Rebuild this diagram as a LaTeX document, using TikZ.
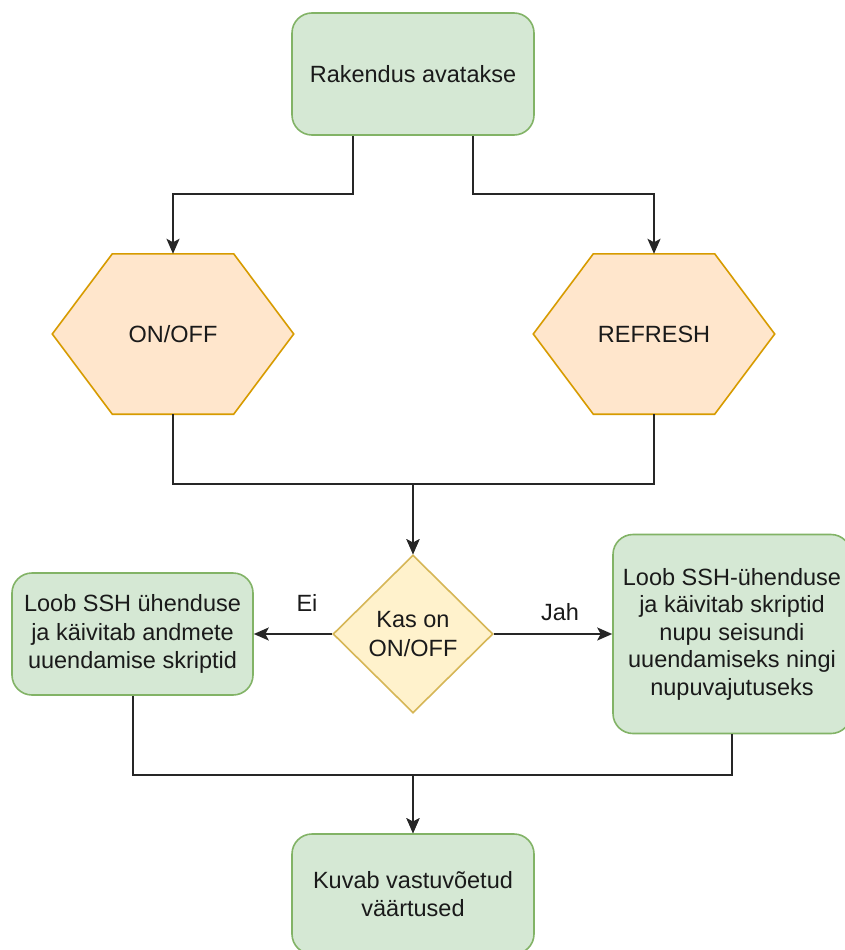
\documentclass[tikz,border=0pt]{standalone}
\usepackage{fontspec}
\setmainfont{Liberation Sans}
\usetikzlibrary{shapes.geometric,arrows.meta,calc}
\definecolor{gfill}{HTML}{D5E8D4}
\definecolor{gline}{HTML}{82B366}
\definecolor{ofill}{HTML}{FFE6CC}
\definecolor{oline}{HTML}{D79B00}
\definecolor{yfill}{HTML}{FFF2CC}
\definecolor{yline}{HTML}{D6B656}
\definecolor{txt}{HTML}{1A1A1A}
\tikzset{
  base/.style={font=\fontsize{23.5}{28.5}\selectfont, text=txt, align=center, inner sep=0pt},
  gbox/.style={base, draw=gline, fill=gfill, line width=1.6pt, rounded corners=20pt},
  hexbox/.style={base, minimum width=241pt, minimum height=160pt},
  hexline/.style={draw=oline, fill=ofill, line width=1.6pt, line join=miter},
  decision/.style={base, shape=diamond, draw=yline, fill=yfill, line width=1.6pt, minimum width=160pt, minimum height=158pt},
  conn/.style={draw=black!85, line width=2pt},
  arr/.style={conn, -{Stealth[length=15pt,width=13pt,inset=3.5pt]}},
  lbl/.style={base}
}
\begin{document}
\begin{tikzpicture}[x=1pt,y=-1pt]
\useasboundingbox (0,0) rectangle (845,950);
\fill[white] (0,0) rectangle (845,950);

\node[gbox, minimum width=242pt, minimum height=122pt] (top) at (413,74) {Rakendus avatakse};

\node[hexbox] (on) at (173,334) {};
\node[hexbox] (ref) at (654,334) {};
\foreach \h in {on,ref}{
  \path[hexline] (\h.west) -- ($(\h.north west)+(60,0)$) -- ($(\h.north east)+(-60,0)$)
    -- (\h.east) -- ($(\h.south east)+(-60,0)$) -- ($(\h.south west)+(60,0)$) -- cycle;
}
\node[base] (ontext) at (on) {ON/OFF};
\node[base] (reftext) at (ref) {REFRESH};

\node[decision] (dia) at (413,634) {Kas on\\ON/OFF};

\node[gbox, minimum width=241pt, minimum height=122pt] (left) at (132.5,634) {Loob SSH ühenduse\\ja käivitab andmete\\uuendamise skriptid};

\node[gbox, minimum width=238pt, minimum height=199pt, font=\fontsize{23.5}{27.5}\selectfont] (right) at (732,634) {Loob SSH-ühenduse\\ja käivitab skriptid\\nupu seisundi\\uuendamiseks ningi\\nupuvajutuseks};

\node[gbox, minimum width=242pt, minimum height=120pt] (bot) at (413,894) {Kuvab vastuvõetud\\väärtused};

% connectors
\draw[arr] ([xshift=-60pt]top.south) -- ++(0,58) -| (on.north);
\draw[arr] ([xshift=60pt]top.south) -- ++(0,58) -| (ref.north);
\draw[arr] (on.south) -- ++(0,70) -| (dia.north);
\draw[arr] (ref.south) -- ++(0,70) -| (dia.north);
\draw[arr] (dia.west) -- (left.east);
\draw[arr] (dia.east) -- (right.west);
\draw[arr] (left.south) -- ++(0,79) -| (bot.north);
\draw[arr] (right.south) -- ++(0,40.5) -| (bot.north);

\node[lbl] (ei) at (307,603) {Ei};
\node[lbl] (jah) at (560,612) {Jah};
\end{tikzpicture}
\end{document}
